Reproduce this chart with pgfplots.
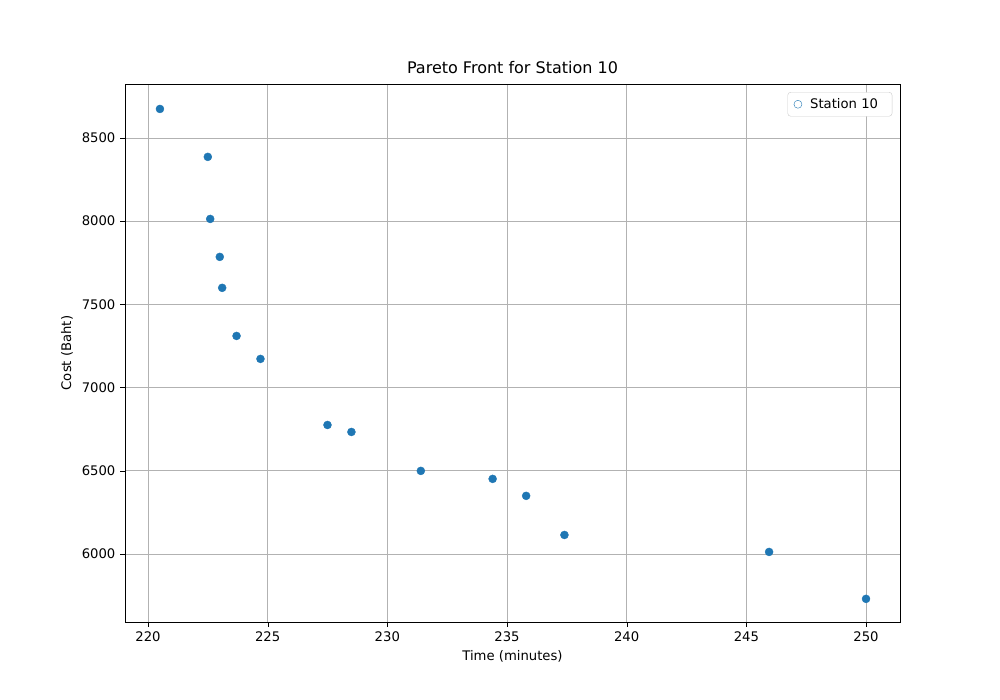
\documentclass[border=0pt]{standalone}
\usepackage{pgfplots}
\pgfplotsset{compat=1.18}
\usepackage{fontspec}
\setmainfont{DejaVu Sans}
\begin{document}
\fontsize{13.2}{16}\selectfont
\begin{tikzpicture}
\path[fill=white] (0,0) rectangle (1000pt,700pt);
\begin{axis}[at={(125pt,78pt)},anchor=south west,scale only axis,
width=775pt,height=538pt,
xmin=219.04,xmax=251.42,ymin=5591,ymax=8824,
xtick={220,225,...,250},ytick={6000,6500,...,8500},
grid=major,grid style={gray!60,line width=0.8pt},
/pgf/number format/assume math mode=true,
/pgf/number format/1000 sep={},
tick label style={font=\fontsize{13.2}{16}\selectfont},
label style={font=\fontsize{13.2}{16}\selectfont},
tick style={black},major tick length=5pt,tick align=outside,
xtick pos=bottom,ytick pos=left,
title={\fontsize{16}{19}\selectfont Pareto Front for Station 10},
xlabel={Time (minutes)},ylabel={Cost (Baht)},
legend style={at={(0.99,0.985)},anchor=north east,font=\fontsize{13.2}{16}\selectfont,draw=gray!40,rounded corners=3pt,inner xsep=6pt,inner ysep=4pt,
 nodes={inner xsep=8pt}},
legend image code/.code={\draw[#1] (0.35cm,0cm) circle (4pt);}]
\addplot[only marks,mark=*,mark size=4pt,color={rgb,255:red,31;green,119;blue,180}] coordinates {
(220.5,8674)(222.5,8386)(222.6,8013)(223.0,7785)(223.1,7599)(223.7,7310)(224.7,7172)
(227.5,6775)(228.5,6733)(231.4,6499)(234.4,6451)(235.8,6349)(237.4,6114)(245.95,6012)(250.0,5730)};
\addlegendentry{Station 10}
\end{axis}
\end{tikzpicture}
\end{document}
